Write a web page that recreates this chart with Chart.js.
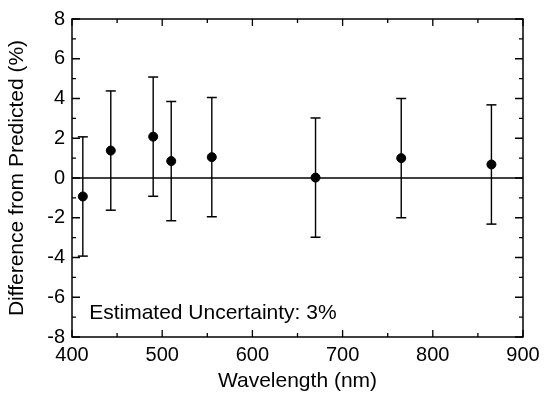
<!DOCTYPE html>
<html>
<head>
<meta charset="utf-8">
<script src="https://cdn.jsdelivr.net/npm/chart.js@4"></script>
<style>
  html, body { margin: 0; padding: 0; background: #fff; }
  #wrap { width: 548px; height: 398px; }
</style>
</head>
<body>
<div id="wrap"><canvas id="c" width="548" height="398"></canvas></div>
<script>
// data (SeaWiFS bands)
const wavelengths = [412, 443, 490, 510, 555, 670, 765, 865];
const diffs       = [-0.93, 1.38, 2.08, 0.85, 1.05, 0.02, 1.0, 0.68];
const uncertainty = 3;
const note        = 'Estimated Uncertainty: 3%';
const notePos     = { x: 419, y: -6.8 };

const FONT = "'Liberation Sans', Arial, sans-serif";
Chart.defaults.font.family = FONT;
Chart.defaults.color = '#000';

const points = wavelengths.map((w, i) => ({ x: w, y: diffs[i] }));
const bars = [];
wavelengths.forEach((w, i) => {
  bars.push({ x: w, y: diffs[i] - uncertainty });
  bars.push({ x: w, y: diffs[i] + uncertainty });
  bars.push({ x: w, y: null });
});
const caps = [];
wavelengths.forEach((w, i) => {
  caps.push({ x: w, y: diffs[i] - uncertainty });
  caps.push({ x: w, y: diffs[i] + uncertainty });
});

// inward ticks, frame and note
const framePlugin = {
  id: 'frame',
  afterDraw(chart) {
    const { ctx, chartArea: a, scales: { x, y } } = chart;
    ctx.save();
    ctx.strokeStyle = '#000';
    ctx.lineWidth = 1.5;
    ctx.strokeRect(a.left, a.top, a.right - a.left, a.bottom - a.top);
    ctx.lineWidth = 1.3;
    ctx.beginPath();
    for (let v = 400; v <= 900; v += 50) {
      const px = x.getPixelForValue(v);
      const len = v % 100 === 0 ? 7 : 4;
      ctx.moveTo(px, a.bottom); ctx.lineTo(px, a.bottom - len);
      ctx.moveTo(px, a.top);    ctx.lineTo(px, a.top + len);
    }
    for (let v = -8; v <= 8; v += 1) {
      const py = y.getPixelForValue(v);
      const len = v % 2 === 0 ? 8 : 4;
      ctx.moveTo(a.left, py);  ctx.lineTo(a.left + len, py);
      ctx.moveTo(a.right, py); ctx.lineTo(a.right - len, py);
    }
    ctx.stroke();
    ctx.font = '21px ' + FONT;
    ctx.fillStyle = '#000';
    ctx.textBaseline = 'middle';
    ctx.fillText(note, x.getPixelForValue(notePos.x), y.getPixelForValue(notePos.y));
    ctx.restore();
  }
};

new Chart(document.getElementById('c'), {
  type: 'scatter',
  data: {
    datasets: [
      {
        data: points,
        backgroundColor: '#000', borderColor: '#000',
        pointRadius: 4.5, pointHoverRadius: 4.5,
      },
      {
        type: 'line',
        data: bars,
        showLine: true, spanGaps: false,
        borderColor: '#000', borderWidth: 1.4,
        pointRadius: 0, pointHoverRadius: 0,
      },
      {
        data: caps,
        pointStyle: 'line', pointRadius: 5, pointHoverRadius: 5,
        borderColor: '#000', borderWidth: 1.5,
      },
      {
        type: 'line',
        data: [{ x: 400, y: 0 }, { x: 900, y: 0 }],
        borderColor: '#000', borderWidth: 1.4,
        pointRadius: 0, pointHoverRadius: 0,
      },
    ]
  },
  options: {
    responsive: false,
    animation: false,
    events: [],
    layout: { padding: { top: 17, right: 25, left: 0, bottom: 0 } },
    plugins: { legend: { display: false }, tooltip: { enabled: false } },
    scales: {
      x: {
        type: 'linear', min: 400, max: 900,
        grid: { display: false, drawTicks: false },
        border: { display: false },
        ticks: { stepSize: 100, padding: 6, font: { size: 20 }, maxRotation: 0 },
        title: { display: true, text: 'Wavelength (nm)', font: { size: 21 }, padding: { top: 3 } },
        afterFit: s => { s.height = 61; }
      },
      y: {
        min: -8, max: 8,
        grid: { display: false, drawTicks: false },
        border: { display: false },
        ticks: { stepSize: 2, padding: 7, font: { size: 20 } },
        title: { display: true, text: 'Difference from Predicted (%)', font: { size: 21 }, padding: { bottom: 0, top: 5 } },
        afterFit: s => { s.width = 72; }
      }
    }
  },
  plugins: [framePlugin]
});
</script>
</body>
</html>
